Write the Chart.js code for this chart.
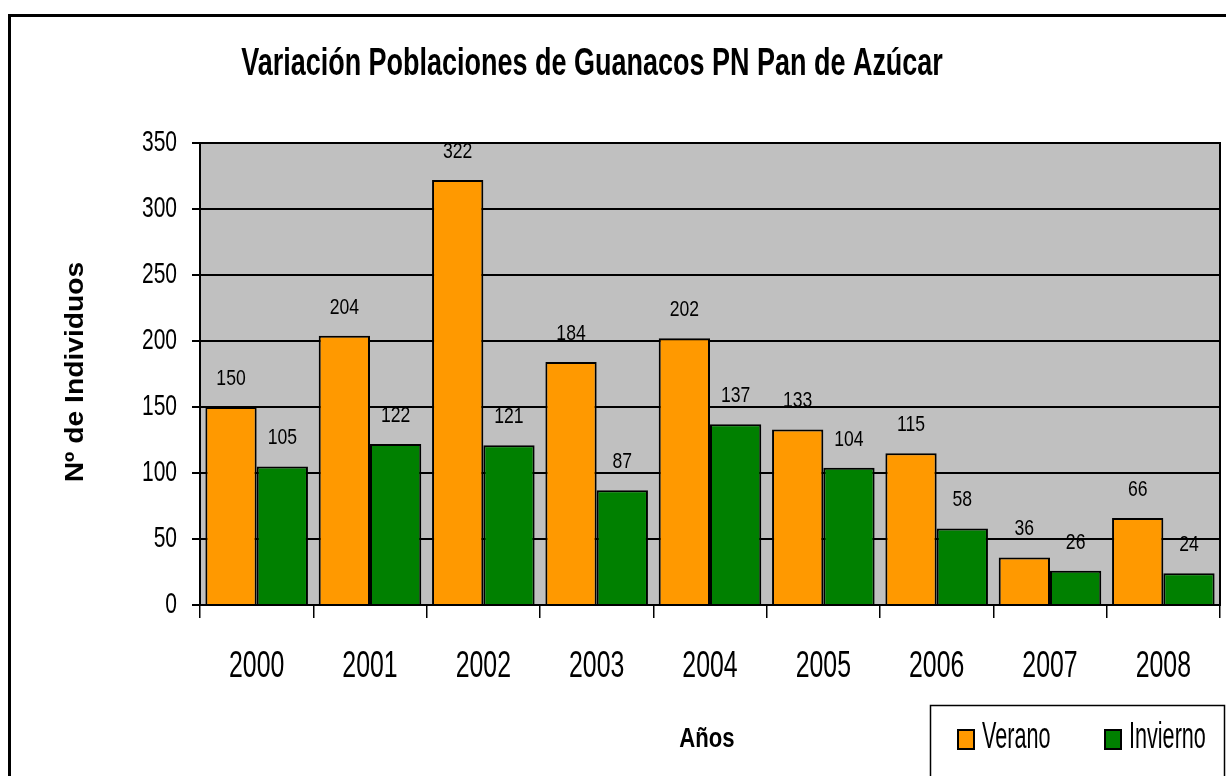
<!DOCTYPE html>
<html>
<head>
<meta charset="utf-8">
<script src="https://cdn.jsdelivr.net/npm/chart.js@4.4.1/dist/chart.umd.min.js"></script>
<style>
  html, body { margin: 0; padding: 0; background: #fff; overflow: hidden; }
  #wrap { width: 1226px; height: 776px; }
  canvas { display: block; }
</style>
</head>
<body>
<div id="wrap"><canvas id="guanacos" width="1226" height="776"></canvas></div>
<script>
var years = ["2000", "2001", "2002", "2003", "2004", "2005", "2006", "2007", "2008"];
var verano = [150, 204, 322, 184, 202, 133, 115, 36, 66];
var invierno = [105, 122, 121, 87, 137, 104, 58, 26, 24];
var yTicks = [0, 50, 100, 150, 200, 250, 300, 350];

var sans = "'Liberation Sans', Arial, sans-serif";

// text squeezed horizontally, like the narrow font of the original
function narrowText(ctx, text, x, y, font, sx, align) {
    ctx.save();
    ctx.font = font;
    ctx.textAlign = align || 'center';
    ctx.textBaseline = 'alphabetic';
    ctx.translate(x, y);
    ctx.scale(sx, 1);
    ctx.fillText(text, 0, 0);
    ctx.restore();
}

var decor = {
    id: 'decor',
    beforeDraw: function(chart) {
        var ctx = chart.ctx;
        ctx.save();
        ctx.fillStyle = '#fff';
        ctx.fillRect(0, 0, chart.width, chart.height);
        ctx.strokeStyle = '#000';
        ctx.lineWidth = 3;
        ctx.strokeRect(9.5, 15.5, chart.width + 10, chart.height + 10);
        var a = chart.chartArea;
        ctx.fillStyle = '#c0c0c0';
        ctx.fillRect(a.left, a.top, a.right - a.left, a.bottom - a.top);
        ctx.restore();
    },
    afterDatasetsDraw: function(chart) {
        var ctx = chart.ctx;
        ctx.fillStyle = '#000';
        chart.data.datasets.forEach(function(ds, i) {
            chart.getDatasetMeta(i).data.forEach(function(bar, j) {
                narrowText(ctx, String(ds.data[j]), bar.x, bar.y - 22, '22px ' + sans, 0.8);
            });
        });
    },
    afterDraw: function(chart) {
        var ctx = chart.ctx;
        var a = chart.chartArea;

        // keep the strip right of the plot white, then frame the plot
        ctx.save();
        ctx.fillStyle = '#fff';
        ctx.fillRect(a.right + 1, a.top - 2, chart.width - a.right, a.bottom - a.top + 4);
        ctx.strokeStyle = '#000';
        ctx.lineWidth = 2;
        ctx.strokeRect(a.left, a.top, a.right - a.left, a.bottom - a.top);
        ctx.restore();

        ctx.fillStyle = '#000';
        narrowText(ctx, 'Variación Poblaciones de Guanacos PN Pan de Azúcar', 592, 75, 'bold 38px ' + sans, 0.71);

        // tick labels from the scales
        var xs = chart.scales.x, ys = chart.scales.y;
        xs.ticks.forEach(function(t, i) {
            narrowText(ctx, chart.data.labels[i], xs.getPixelForTick(i), 677, '36px ' + sans, 0.69);
        });
        ys.ticks.forEach(function(t, i) {
            narrowText(ctx, String(t.value), 177, ys.getPixelForTick(i) + 8, '30px ' + sans, 0.7, 'right');
        });

        // axis titles
        narrowText(ctx, 'Años', 707, 747, 'bold 28px ' + sans, 0.79);
        ctx.save();
        ctx.translate(83, 372);
        ctx.rotate(-Math.PI / 2);
        ctx.scale(1.13, 1);
        ctx.font = 'bold 25px ' + sans;
        ctx.textAlign = 'center';
        ctx.textBaseline = 'alphabetic';
        ctx.fillText('Nº de Individuos', 0, 0);
        ctx.restore();

        // legend box
        ctx.save();
        ctx.strokeStyle = '#000';
        ctx.lineWidth = 1.5;
        ctx.strokeRect(930.5, 705.5, 294, 100);
        var lx = [958, 1105];
        chart.data.datasets.forEach(function(ds, i) {
            ctx.fillStyle = ds.backgroundColor;
            ctx.fillRect(lx[i], 730, 16, 19);
            ctx.lineWidth = 2;
            ctx.strokeRect(lx[i], 730, 16, 19);
            ctx.fillStyle = '#000';
            narrowText(ctx, ds.label, lx[i] + 24, 748, '36px ' + sans, 0.6, 'left');
        });
        ctx.restore();
    }
};

new Chart(document.getElementById('guanacos').getContext('2d'), {
    type: 'bar',
    data: {
        labels: years,
        datasets: [
            {
                label: 'Verano',
                data: verano,
                backgroundColor: '#ff9900',
                borderColor: '#000',
                borderWidth: 2,
                borderSkipped: 'bottom'
            },
            {
                label: 'Invierno',
                data: invierno,
                backgroundColor: '#008000',
                borderColor: '#000',
                borderWidth: 2,
                borderSkipped: 'bottom'
            }
        ]
    },
    options: {
        responsive: false,
        animation: false,
        layout: { padding: { left: 0, right: 6, top: 143, bottom: 0 } },
        datasets: { bar: { categoryPercentage: 0.905, barPercentage: 1.0 } },
        plugins: {
            legend: { display: false },
            title: { display: false },
            tooltip: { enabled: false }
        },
        scales: {
            x: {
                grid: {
                    offset: true,
                    color: '#000',
                    lineWidth: 1.5,
                    drawOnChartArea: false,
                    tickLength: 13
                },
                border: { color: '#000', width: 2 },
                ticks: { color: 'rgba(0,0,0,0)', maxRotation: 0 },
                afterFit: function(scale) { scale.height = 171; }
            },
            y: {
                min: 0,
                max: 350,
                afterBuildTicks: function(scale) {
                    scale.ticks = yTicks.map(function(v) { return { value: v }; });
                },
                grid: {
                    color: '#000',
                    lineWidth: 2,
                    tickLength: 8
                },
                border: { color: '#000', width: 2 },
                ticks: { color: 'rgba(0,0,0,0)' },
                afterFit: function(scale) { scale.width = 200; }
            }
        }
    },
    plugins: [decor]
});
</script>
</body>
</html>
